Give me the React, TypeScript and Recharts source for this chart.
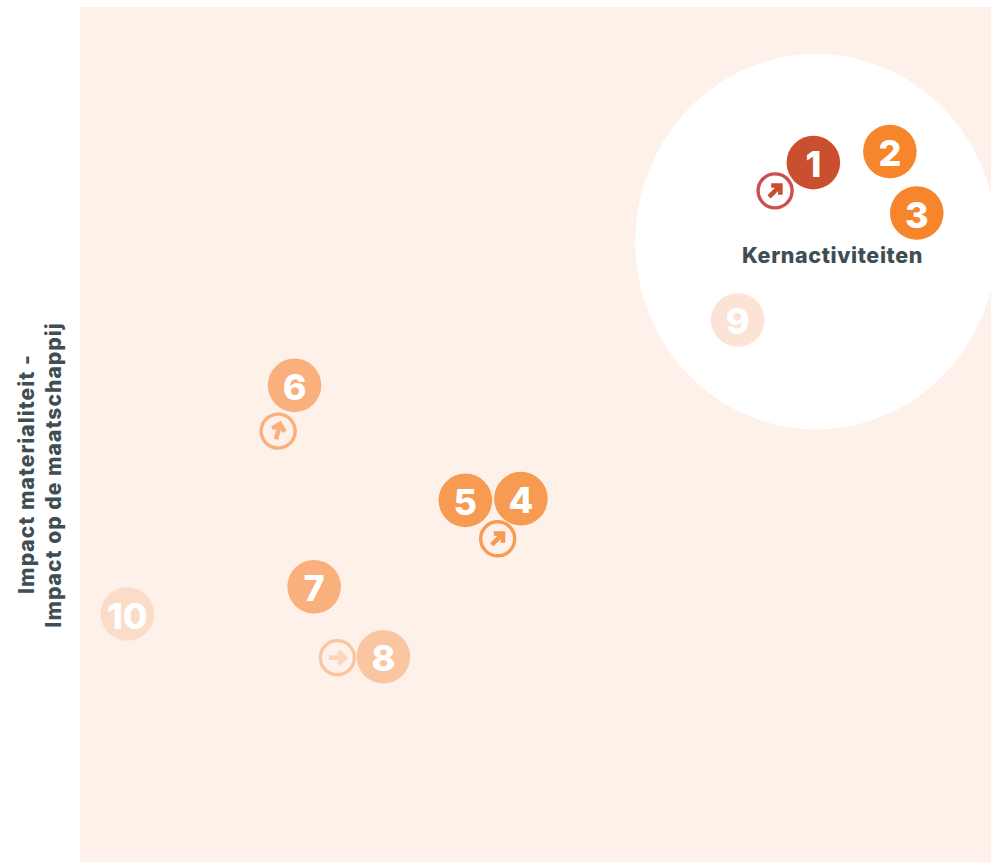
import React from "react";
import { ScatterChart, Scatter, XAxis, YAxis, CartesianGrid, ReferenceArea } from "recharts";

const ids = [1, 2, 3, 4, 5, 6, 7, 8, 9, 10];
const xValues = [80.5, 88.9, 91.85, 48.4, 42.3, 23.55, 25.7, 33.3, 72.2, 5.2];
const yValues = [81.8, 83.1, 75.9, 42.5, 42.3, 55.75, 32.2, 24.0, 63.4, 29.0];

const trendOf = [1, 4, 6, 8];
const trendX = [76.3, 45.85, 21.75, 28.25];
const trendY = [78.5, 37.8, 50.4, 23.9];
const trendAngle = [45, 45, 15, 90];

const coreName = "Kernactiviteiten";
const coreX = [60.95, 100.66];
const coreY = [50.6, 94.5];
const coreLabelX = 82.6;
const coreLabelY = 70.9;

const yLabelLines = ["Impact materialiteit -", "Impact op de maatschappij"];

const dotColors = ["#C94F2E", "#F6852C", "#F6852C", "#F79A52", "#F79A52", "#F9B07C", "#F9B07C", "#FAC6A2", "#FDE3D5", "#FBDCC9"];
const ringColors: Record<number, string> = { 1: "#CC4E4E", 4: "#F79A52", 6: "#F9B07C", 8: "#FAC6A2" };
const arrowColors: Record<number, string> = { 1: "#C94F2E", 4: "#F79A52", 6: "#F9B07C", 8: "#FBD6BC" };

const FONT = "Inter, 'Open Sans', sans-serif";
const dots = ids.map((id, i) => ({ id, x: xValues[i], y: yValues[i] }));
const trends = trendOf.map((id, i) => ({ id, x: trendX[i], y: trendY[i], angle: trendAngle[i] }));
const coreLabel = [{ x: coreLabelX, y: coreLabelY, name: coreName }];

const Dot = (p: any) => (
  <g>
    <circle cx={p.cx} cy={p.cy} r={26.8} fill={dotColors[p.payload.id - 1]} />
    <text x={p.cx} y={p.cy} dy={14.5} textAnchor="middle" fill="#fff" fontFamily={FONT} fontWeight={800} fontSize={36}>
      {p.payload.id}
    </text>
  </g>
);

const Trend = (p: any) => (
  <g transform={`translate(${p.cx},${p.cy}) rotate(${p.payload.angle})`}>
    <circle r={17} fill="none" stroke={ringColors[p.payload.id]} strokeWidth={3.4} />
    <path d="M0 8.5V-7M-6.5 -1L0 -7.5L6.5 -1" fill="none" stroke={arrowColors[p.payload.id]} strokeWidth={4.6} />
  </g>
);

const CoreText = (p: any) => (
  <text x={p.cx} y={p.cy} dy={7} textAnchor="middle" fill="#3F4E55" fontFamily={FONT} fontWeight={800} fontSize={21.5} letterSpacing={0.6}>
    {p.payload.name}
  </text>
);

const Ellipse = (p: any) => (
  <ellipse cx={p.x + p.width / 2} cy={p.y + p.height / 2} rx={p.width / 2} ry={p.height / 2} fill="#fff" />
);

const YLabel = () => (
  <g fontFamily={FONT} fontWeight={800} fontSize={21} fill="#3F4E55" textAnchor="middle" letterSpacing={1.05}>
    <text transform="translate(34,474) rotate(-90)">{yLabelLines[0]}</text>
    <text transform="translate(61,475) rotate(-90)">{yLabelLines[1]}</text>
  </g>
);

export default function App() {
  return (
    <div style={{ position: "absolute", left: 0, top: 0 }}>
      <ScatterChart width={991} height={862} margin={{ top: 7, right: 0, bottom: 0, left: 0 }}>
        <CartesianGrid horizontal={false} vertical={false} fill="#FEF1E9" />
        <XAxis type="number" dataKey="x" domain={[0, 100]} hide allowDataOverflow />
        <YAxis type="number" dataKey="y" domain={[0, 100]} width={80} tick={false} axisLine={false} tickLine={false} allowDataOverflow label={{ content: <YLabel /> }} />
        <ReferenceArea x1={coreX[0]} x2={coreX[1]} y1={coreY[0]} y2={coreY[1]} ifOverflow="visible" shape={<Ellipse />} />
        <Scatter data={trends} shape={<Trend />} isAnimationActive={false} />
        <Scatter data={dots} shape={<Dot />} isAnimationActive={false} />
        <Scatter data={coreLabel} shape={<CoreText />} isAnimationActive={false} />
      </ScatterChart>
    </div>
  );
}
